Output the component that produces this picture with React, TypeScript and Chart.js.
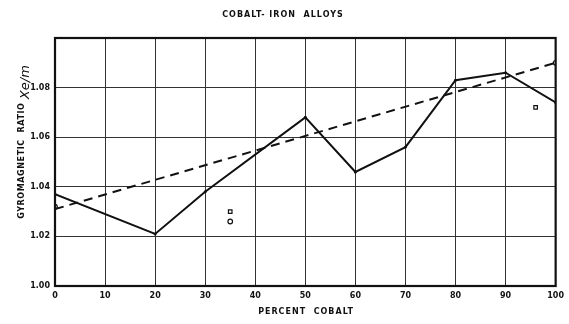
import React, { useEffect, useRef } from "react";
import { Chart, registerables } from "chart.js";
Chart.register(...registerables);

const titleText = "COBALT- IRON  ALLOYS";
const xTitle = "PERCENT  COBALT";
const yTitleMain = "GYROMAGNETIC  RATIO";
const yTitleSym = "Xe/m";

const solidX = [0, 20, 30, 50, 60, 70, 80, 90, 100];
const solidY = [1.037, 1.021, 1.038, 1.068, 1.046, 1.056, 1.083, 1.086, 1.074];
const dashX = [0, 100];
const dashY = [1.031, 1.09];
const circleX = [0, 100, 35];
const circleY = [1.032, 1.09, 1.026];
const squareX = [35, 96];
const squareY = [1.03, 1.072];

const FONT = "'DejaVu Sans', sans-serif";

const pts = (xs: number[], ys: number[]) => xs.map((x, i) => ({ x, y: ys[i] }));

const framePlugin = {
  id: "frame",
  afterDraw(chart: any) {
    const { ctx, chartArea: a } = chart;
    ctx.save();
    ctx.strokeStyle = "#111";
    ctx.lineWidth = 2.2;
    ctx.strokeRect(a.left, a.top, a.right - a.left, a.bottom - a.top);
    ctx.fillStyle = "#111";
    ctx.textAlign = "center";
    ctx.textBaseline = "middle";
    ctx.font = `bold 8px ${FONT}`;
    (ctx as any).letterSpacing = "1px";
    ctx.fillText(titleText, 283, 15);
    ctx.fillText(xTitle, 306, 312);
    // y title
    ctx.translate(22, 142);
    ctx.rotate(-Math.PI / 2);
    ctx.textAlign = "left";
    (ctx as any).letterSpacing = "0.6px";
    ctx.font = `bold 8px ${FONT}`;
    const w1 = ctx.measureText(yTitleMain + " ").width;
    (ctx as any).letterSpacing = "0px";
    ctx.font = `italic 13px ${FONT}`;
    const w2 = ctx.measureText(yTitleSym).width;
    const start = -(w1 + w2) / 2;
    (ctx as any).letterSpacing = "0.6px";
    ctx.font = `bold 8px ${FONT}`;
    ctx.fillText(yTitleMain, start, 0);
    (ctx as any).letterSpacing = "0px";
    ctx.font = `italic 13px ${FONT}`;
    ctx.fillText(yTitleSym, start + w1, 4);
    ctx.restore();
  },
};

export default function App() {
  const ref = useRef<HTMLCanvasElement>(null);
  useEffect(() => {
    const chart = new Chart(ref.current!, {
      type: "scatter",
      data: {
        datasets: [
          {
            data: pts(solidX, solidY),
            showLine: true,
            borderColor: "#111",
            borderWidth: 2,
            pointRadius: 1.5,
            pointBackgroundColor: "#111",
            pointBorderWidth: 0,
          },
          {
            data: pts(dashX, dashY),
            showLine: true,
            borderColor: "#111",
            borderWidth: 2,
            borderDash: [9, 6],
            pointRadius: 0,
          },
          {
            data: pts(circleX, circleY),
            showLine: false,
            pointStyle: "circle",
            pointRadius: 2.3,
            borderColor: "#111",
            borderWidth: 1.2,
            backgroundColor: "#fff",
          },
          {
            data: pts(squareX, squareY),
            showLine: false,
            pointStyle: "rect",
            pointRadius: 2.5,
            borderColor: "#111",
            borderWidth: 1.2,
            backgroundColor: "#fff",
          },
        ],
      },
      options: {
        animation: false,
        responsive: false,
        devicePixelRatio: 1,
        layout: { padding: { top: 38, right: 13, left: 0, bottom: 0 } },
        plugins: { legend: { display: false }, tooltip: { enabled: false }, title: { display: false } },
        scales: {
          x: {
            type: "linear",
            min: 0,
            max: 100,
            ticks: { stepSize: 10, color: "#111", font: { family: FONT, size: 8, weight: "bold" }, padding: 5, maxRotation: 0 },
            grid: { color: "#333", lineWidth: 1, drawTicks: false },
            border: { display: false },
            afterFit: (s: any) => { s.height = 38; },
          },
          y: {
            min: 1.0,
            max: 1.1,
            ticks: {
              stepSize: 0.02,
              color: "#111",
              font: { family: FONT, size: 8, weight: "bold" },
              padding: 5,
              callback: (v: any) => (Math.abs(v - 1.1) < 1e-6 ? "" : Number(v).toFixed(2)),
            },
            grid: { color: "#333", lineWidth: 1, drawTicks: false },
            border: { display: false },
            afterFit: (s: any) => { s.width = 55; },
          },
        },
      },
      plugins: [framePlugin],
    } as any);
    return () => chart.destroy();
  }, []);
  return (
    <div style={{ position: "fixed", left: 0, top: 0, width: 569, height: 324, background: "#fff" }}>
      <canvas ref={ref} width={569} height={324} style={{ width: 569, height: 324 }} />
    </div>
  );
}
